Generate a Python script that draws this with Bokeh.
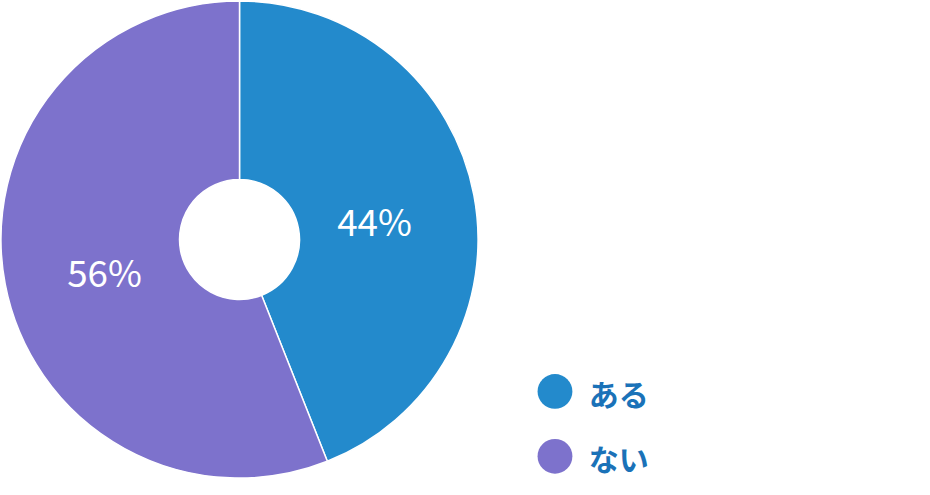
import math
from bokeh.plotting import figure
from bokeh.models import Range1d, ColumnDataSource
from bokeh.core.properties import value
from bokeh.embed import file_html
from bokeh.resources import INLINE

categories = ["ある", "ない"]
shares = [44, 56]
colors = ["#238ACC", "#7D72CC"]

W, H = 914, 479
REF_H = 495
k = H / REF_H  # screen pixels per reference pixel
p = figure(width=W, height=H, output_backend="svg", toolbar_location=None,
           x_range=Range1d(0, W / k), y_range=Range1d(0, REF_H),
           min_border=0, outline_line_color=None)
p.axis.visible = False
p.grid.visible = False
p.background_fill_color = "white"
p.border_fill_color = "white"

# pie geometry in reference pixels (y up)
cx, cy = 247, REF_H - 247
r_out, r_in = 246.5, 62

total = sum(shares)
starts, ends, mids = [], [], []
a = math.pi / 2
for s in shares:
    e = a - 2 * math.pi * s / total
    starts.append(a)
    ends.append(e)
    mids.append((a + e) / 2)
    a = e

src = ColumnDataSource(dict(start=starts, end=ends, color=colors))
p.annular_wedge(x=cx, y=cy, inner_radius=r_in, outer_radius=r_out,
                start_angle="start", end_angle="end", direction="clock",
                fill_color="color", line_color="white", line_width=1.5,
                source=src)

lab_r = 142
lx = [cx + lab_r * math.cos(m) for m in mids]
ly = [cy + lab_r * math.sin(m) - 6 for m in mids]
labels = [f"{s}%" for s in shares]
p.text(x=lx, y=ly, text=labels, text_align="center", text_baseline="middle",
       text_color="white", text_font=value("Noto Sans CJK JP"),
       text_font_size=f"{38 * k:.1f}px")

# legend
leg_x = 573
leg_y = [REF_H - 404, REF_H - 471]
p.scatter(x=[leg_x] * len(categories), y=leg_y, size=36 * k, marker="circle",
          fill_color=colors, line_color=None)
p.text(x=[leg_x + 35] * len(categories), y=[v - 2 for v in leg_y], text=categories,
       text_align="left", text_baseline="middle", text_color="#1A72B8",
       text_font=value("Noto Sans CJK JP"), text_font_style="bold",
       text_font_size=f"{31 * k:.1f}px")

open("out.html", "w").write(file_html(p, INLINE))
